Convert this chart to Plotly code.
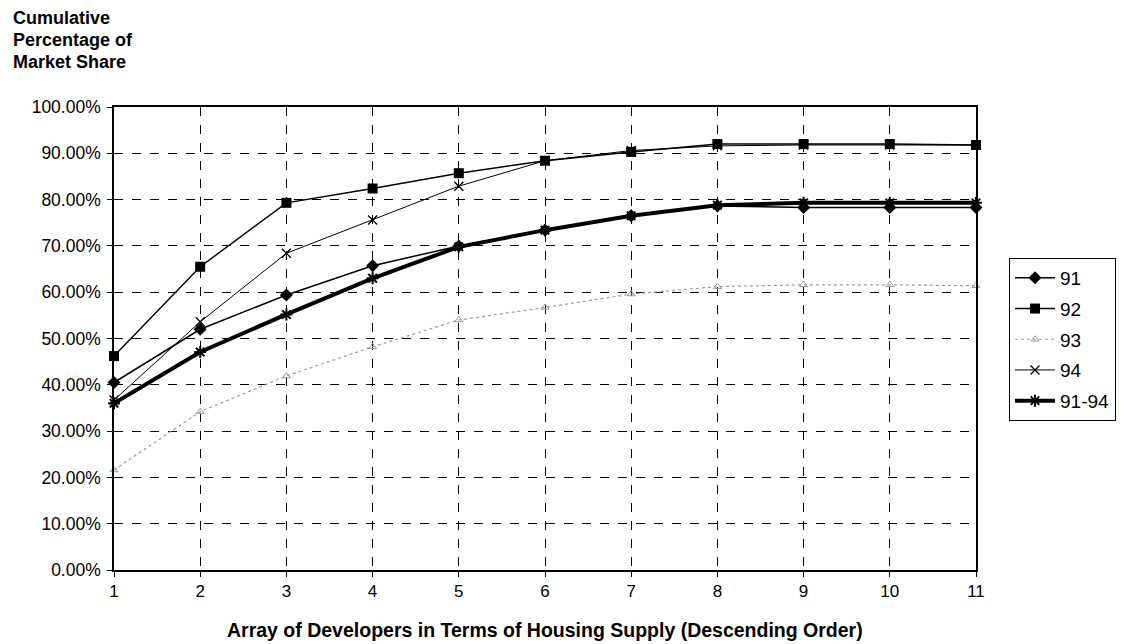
import plotly.graph_objects as go

developers = [1, 2, 3, 4, 5, 6, 7, 8, 9, 10, 11]
s91 = [40.5, 52.0, 59.4, 65.7, 70.0, 73.4, 76.5, 78.6, 78.3, 78.3, 78.3]
s92 = [46.2, 65.5, 79.3, 82.4, 85.7, 88.4, 90.3, 92.0, 92.0, 92.0, 91.8]
s93 = [21.6, 34.2, 41.9, 48.2, 54.0, 56.7, 59.6, 61.2, 61.6, 61.6, 61.4]
s94 = [36.7, 53.6, 68.4, 75.6, 82.9, 88.4, 90.6, 91.6, 91.8, 91.8, 91.8]
s9194 = [36.0, 47.1, 55.2, 63.0, 69.8, 73.4, 76.5, 78.8, 79.3, 79.3, 79.3]
y_ticks = [0, 10, 20, 30, 40, 50, 60, 70, 80, 90, 100]
y_labels = [f"{v:.2f}%" for v in y_ticks]

W, H = 1129, 644
L, R, T, B = 114, 976, 107, 570
FONT = "Arial, Liberation Sans, sans-serif"

def px(x):
    return (x - L) / (R - L)

def py(y):
    return (B - y) / (B - T)

fig = go.Figure()

series = [
    ("91", s91, dict(color="black", width=1.5), dict(symbol="diamond", size=10, color="black")),
    ("92", s92, dict(color="black", width=1.5), dict(symbol="square", size=10, color="black")),
    ("93", s93, dict(color="#9a9a9a", width=1.2, dash="dot"), dict(symbol="triangle-up-open", size=7, color="#9a9a9a")),
    ("94", s94, dict(color="black", width=1), dict(symbol="x-thin-open", size=9, color="black", line=dict(width=1.3, color="black"))),
    ("91-94", s9194, dict(color="black", width=4), dict(symbol="asterisk-open", size=10, color="black", line=dict(width=2, color="black"))),
]

for i, (name, vals, line, marker) in enumerate(series):
    fig.add_trace(go.Scatter(
        x=developers, y=vals, name=name, mode="lines+markers",
        line=line, marker=marker, cliponaxis=False, legendgroup=f"g{i}",
    ))

fig.update_layout(
    width=W, height=H,
    margin=dict(l=L, r=W - R, t=T, b=H - B, autoexpand=False),
    paper_bgcolor="white", plot_bgcolor="white",
    font=dict(family=FONT, size=16, color="black"),
    showlegend=True,
    legend=dict(
        x=px(1009), y=py(258), xanchor="left", yanchor="top",
        bordercolor="black", borderwidth=1, bgcolor="white",
        font=dict(size=19, family=FONT), traceorder="grouped", tracegroupgap=3,
        itemwidth=40,
    ),
    xaxis=dict(
        range=[1, 11], tickmode="array", tickvals=developers,
        showgrid=True, gridcolor="black", griddash="dash", gridwidth=1,
        showline=True, linecolor="black", linewidth=1.5, mirror=True,
        ticks="outside", ticklen=5, tickcolor="black",
        tickfont=dict(size=17, family=FONT), zeroline=False,
    ),
    yaxis=dict(
        range=[0, 100], tickmode="array", tickvals=y_ticks, ticktext=y_labels,
        showgrid=True, gridcolor="black", griddash="dash", gridwidth=1,
        showline=True, linecolor="black", linewidth=1.5, mirror=True,
        ticks="outside", ticklen=5, tickcolor="black", ticklabelstandoff=3,
        tickfont=dict(size=17.5, family=FONT), zeroline=False,
    ),
)

title_lines = ["Cumulative", "Percentage of", "Market Share"]
title_y = [18, 40, 62]
for text, yy in zip(title_lines, title_y):
    fig.add_annotation(
        text=f"<b>{text}</b>", xref="paper", yref="paper",
        x=px(11), y=py(yy), xanchor="left", yanchor="middle",
        showarrow=False, font=dict(size=18, family=FONT),
    )

fig.add_annotation(
    text="<b>Array of Developers in Terms of Housing Supply (Descending Order)</b>",
    xref="paper", yref="paper", x=0.5, y=py(630),
    xanchor="center", yanchor="middle", showarrow=False,
    font=dict(size=19.5, family=FONT),
)

fig.write_html("out.html")
